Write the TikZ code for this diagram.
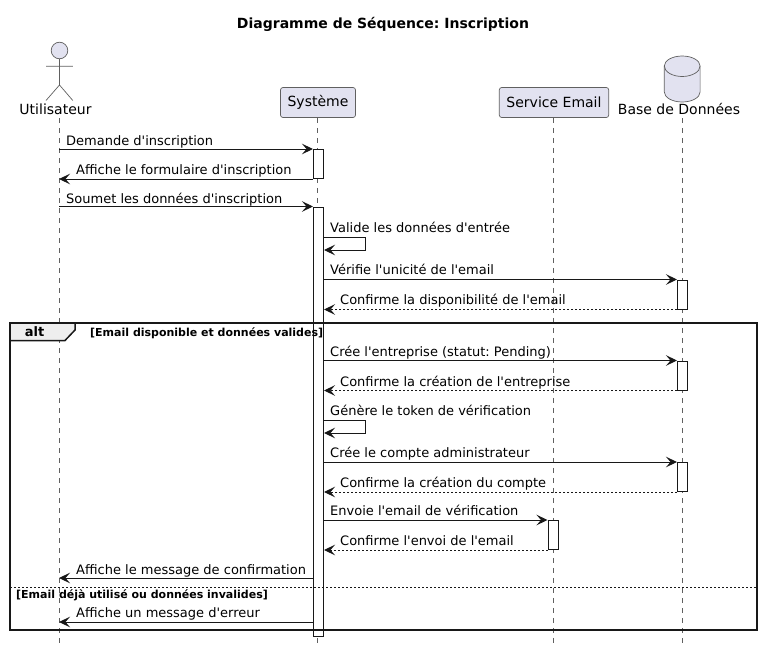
\documentclass[tikz,border=0pt]{standalone}
\usepackage{fontspec}
\setmainfont[Ligatures=TeXOff]{DejaVu Sans}
\frenchspacing
\usetikzlibrary{arrows.meta}
\definecolor{partfill}{HTML}{E2E2F0}
\definecolor{inkline}{HTML}{181818}
\definecolor{thinline}{HTML}{606060}
\definecolor{tabfill}{HTML}{EEEEEE}
\tikzset{
  msg/.style={draw=inkline,line width=1pt,-{Stealth[length=11pt,width=10.5pt,inset=4.5pt]}},
  back/.style={msg,dash pattern=on 2pt off 2pt},
  lifeline/.style={draw=thinline,line width=.5pt,dash pattern=on 5pt off 5pt},
  part/.style={draw=thinline,line width=.7pt,fill=partfill,rounded corners=2.5pt,
    inner sep=0pt,minimum height=30pt,font=\fontsize{14}{16}\selectfont},
  actbar/.style={draw=inkline,line width=1pt,fill=white,inner sep=0pt,minimum width=10pt},
  msgtext/.style={anchor=base west,inner sep=0pt,font=\fontsize{13}{15}\selectfont},
  headtext/.style={anchor=base,inner sep=0pt,font=\fontsize{14}{16}\selectfont},
  condtext/.style={anchor=base west,inner sep=0pt,font=\fontsize{11}{13}\selectfont\bfseries},
}
\begin{document}
\begin{tikzpicture}[x=1pt,y=-1pt]
  \useasboundingbox (0,0) rectangle (762,653);
  \node (title) [anchor=base,inner sep=0pt,font=\fontsize{14}{16}\selectfont\bfseries] at (383,28) {Diagramme de Séquence: Inscription};
  % ------ participants ----------------
  \node (sysBox) [part,minimum width=75pt] at (318,102.5) {Système};
  \node (mailBox) [part,minimum width=109.5pt] at (554,102.5) {Service Email};
  \node (usrLabel) [headtext] at (55.5,114.5) {Utilisateur};
  \node (dbLabel) [headtext] at (679,114.5) {Base de Données};
  % actor
  \draw [draw=thinline,line width=.7pt,fill=partfill] (59.5,50.5) circle (8.3);
  \draw [draw=thinline,line width=.7pt] (59.5,58.8)--(59.5,85) (46,66.2)--(72.8,66.2)
    (46,100.5)--(59.5,85)--(72.8,100.5);
  % database
  \draw [draw=thinline,line width=.7pt,fill=partfill] (664.3,66) -- (664.3,92)
    arc [start angle=180,end angle=0,x radius=17.9,y radius=10] -- (700.1,66)
    arc [start angle=0,end angle=-180,x radius=17.9,y radius=10] -- cycle;
  \draw [draw=thinline,line width=.7pt] (664.3,66)
    arc [start angle=180,end angle=0,x radius=17.9,y radius=10.5];
  % ------ lifelines ----------------
  \coordinate (usrTop) at (59,118);
  \coordinate (dbTop) at (682.5,118);
  \coordinate (lineEnd) at (0,644);
  \draw [lifeline] (usrTop) -- (usrTop |- lineEnd);
  \draw [lifeline] (sysBox.south -| 317.5,0) -- (317.5,0 |- lineEnd);
  \draw [lifeline] (mailBox.south -| 553,0) -- (553,0 |- lineEnd);
  \draw [lifeline] (dbTop) -- (dbTop |- lineEnd);
  % ------ activations ----------------
  \node (sysBarA) [actbar,minimum height=29pt] at (318.5,164) {};
  \node (sysBarB) [actbar,minimum height=429pt] at (318.5,421.5) {};
  \node (dbBarA) [actbar,minimum height=29pt] at (682.5,294.5) {};
  \node (dbBarB) [actbar,minimum height=29pt] at (682.5,375.5) {};
  \node (dbBarC) [actbar,minimum height=29pt] at (682.5,477) {};
  \node (mailBar) [actbar,minimum height=29pt] at (553,535) {};
  % ------ rows of the long bar ----------------
  \coordinate (rowSelfA) at (0,237);
  \coordinate (rowSelfAb) at (365,250);
  \coordinate (rowSelfB) at (0,420);
  \coordinate (rowSelfBb) at (365,433);
  \coordinate (rowOk) at (0,578);
  \coordinate (rowErr) at (0,622);
  % ------ messages ----------------
  \draw [msg] (usrTop |- sysBarA.north) -- (sysBarA.north west);
  \node (txtDemande) [msgtext] at (66,145) {Demande d'inscription};
  \draw [msg] (sysBarA.south west) -- (usrTop |- sysBarA.south);
  \node (txtForm) [msgtext] at (76,174) {Affiche le formulaire d'inscription};
  \draw [msg] (usrTop |- sysBarB.north) -- (sysBarB.north west);
  \node (txtSoumet) [msgtext] at (66,203) {Soumet les données d'inscription};
  \draw [msg] (sysBarB.east |- rowSelfA) -| (rowSelfAb) -- (sysBarB.east |- rowSelfAb);
  \node (txtValide) [msgtext] at (330,232) {Valide les données d'entrée};
  \draw [msg] (sysBarB.east |- dbBarA.north) -- (dbBarA.north west);
  \node (txtUnique) [msgtext] at (330,274.5) {Vérifie l'unicité de l'email};
  \draw [back] (dbBarA.south west) -- (sysBarB.east |- dbBarA.south);
  \node (txtDispo) [msgtext] at (340,304) {Confirme la disponibilité de l'email};
  \draw [msg] (sysBarB.east |- dbBarB.north) -- (dbBarB.north west);
  \node (txtCree) [msgtext] at (330,356) {Crée l'entreprise (statut: Pending)};
  \draw [back] (dbBarB.south west) -- (sysBarB.east |- dbBarB.south);
  \node (txtCreation) [msgtext] at (340,386) {Confirme la création de l'entreprise};
  \draw [msg] (sysBarB.east |- rowSelfB) -| (rowSelfBb) -- (sysBarB.east |- rowSelfBb);
  \node (txtToken) [msgtext] at (330,415) {Génère le token de vérification};
  \draw [msg] (sysBarB.east |- dbBarC.north) -- (dbBarC.north west);
  \node (txtCompte) [msgtext] at (330,457) {Crée le compte administrateur};
  \draw [back] (dbBarC.south west) -- (sysBarB.east |- dbBarC.south);
  \node (txtCompteOk) [msgtext] at (340,487) {Confirme la création du compte};
  \draw [msg] (sysBarB.east |- mailBar.north) -- (mailBar.north west);
  \node (txtEnvoie) [msgtext] at (330,515) {Envoie l'email de vérification};
  \draw [back] (mailBar.south west) -- (sysBarB.east |- mailBar.south);
  \node (txtEnvoiOk) [msgtext] at (340,545) {Confirme l'envoi de l'email};
  \draw [msg] (sysBarB.west |- rowOk) -- (usrTop |- rowOk);
  \node (txtOk) [msgtext] at (76,574) {Affiche le message de confirmation};
  \draw [msg] (sysBarB.west |- rowErr) -- (usrTop |- rowErr);
  \node (txtErr) [msgtext] at (76,617) {Affiche un message d'erreur};
  % ------ alt frame ----------------
  \draw [draw=inkline,line width=1.5pt,fill=tabfill] (10,323) -- (75,323) -- (75,330) -- (65,340.5) -- (10,340.5) -- cycle;
  \draw [draw=inkline,line width=1.5pt] (10,323) rectangle (757,630);
  \draw [draw=inkline,line width=1pt,dash pattern=on 2pt off 2pt] (10,587.5) -- (757,587.5);
  \node (altTag) [anchor=base,inner sep=0pt,font=\fontsize{13}{15}\selectfont\bfseries] at (34.5,336) {alt};
  \node (condOk) [condtext] at (90,336) {[Email disponible et données valides]};
  \node (condErr) [condtext] at (16,598) {[Email déjà utilisé ou données invalides]};
\end{tikzpicture}
\end{document}
